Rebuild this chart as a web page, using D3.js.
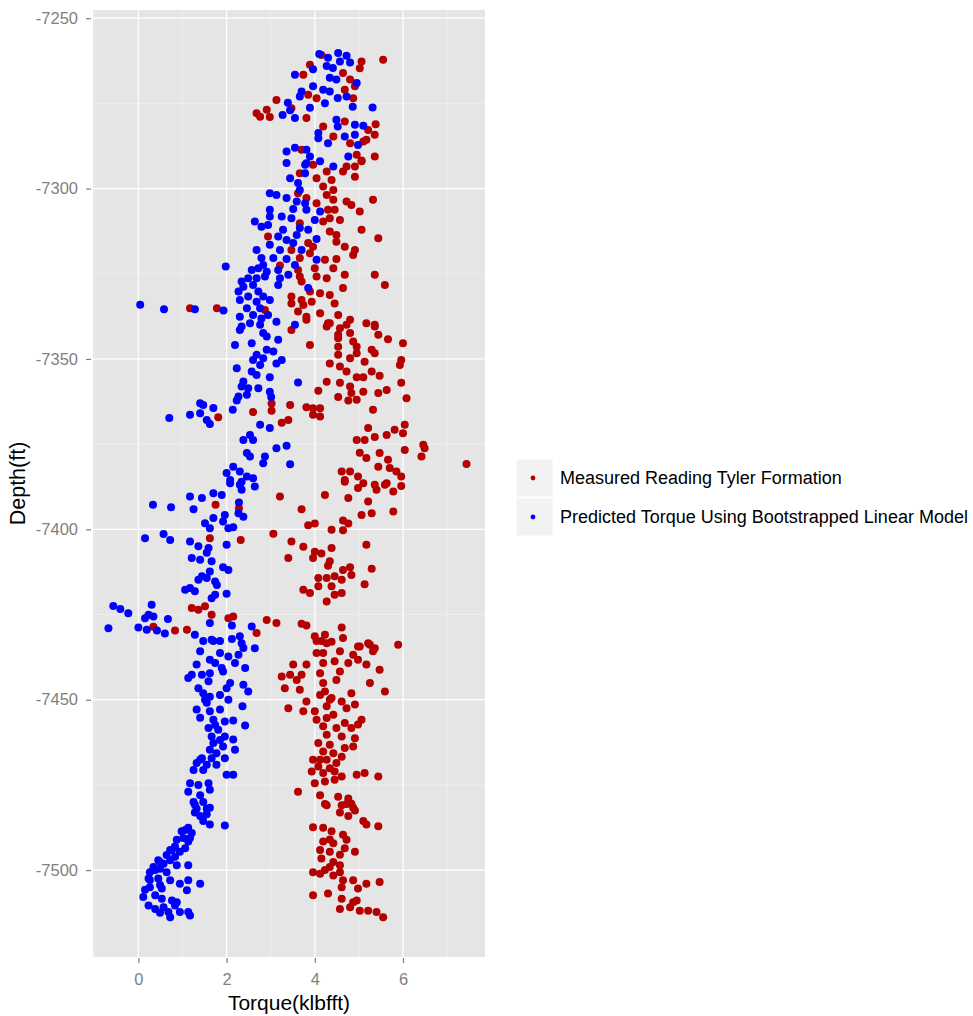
<!DOCTYPE html>
<html>
<head>
<meta charset="utf-8">
<script src="https://cdnjs.cloudflare.com/ajax/libs/d3/7.8.5/d3.min.js"></script>
<style>
  body { margin: 0; background: #fff; }
  text { font-family: "Liberation Sans", Arial, sans-serif; }
</style>
</head>
<body>
<div id="chart"></div>
<script>
// series / legend
var seriesNames = ['Measured Reading Tyler Formation', 'Predicted Torque Using Bootstrapped Linear Model']
var seriesColors = ['#b40000', '#0000ff']

// axis ticks
var xTicks = [0, 2, 4, 6]
var xMinor = [-1, 1, 3, 5, 7]
var yTicks = [-7250, -7300, -7350, -7400, -7450, -7500]
var yMinor = [-7275, -7325, -7375, -7425, -7475]

// [torque (klbfft), depth (ft)]
var measured = [
  [5.55,-7262.2],[5.06,-7262.7],[5.02,-7264.7],[4.15,-7260.8],[3.89,-7263.7],[3.74,-7266.6],[4.64,-7266.1],[4.80,-7268],
  [4.68,-7271],[4.91,-7270],[4.04,-7273.5],[3.85,-7272.5],[4.87,-7273.5],[3.13,-7274],[3.47,-7276.4],[2.91,-7276.9],
  [2.68,-7277.9],[2.76,-7278.9],[2.98,-7279],[3.81,-7279.3],[4.19,-7281.8],[4.68,-7280.3],[5.21,-7282.8],[5.38,-7281.1],
  [5.36,-7284.2],[4.42,-7284.7],[4.80,-7286.7],[5.10,-7286.2],[5.17,-7285.7],[4.95,-7290.1],[5.36,-7290.6],[5.06,-7291.8],
  [3.70,-7288.6],[4.72,-7293.5],[4.91,-7293.5],
  [3.96,-7293],[4.27,-7295],[4.64,-7295],[5.06,-7292],[4.91,-7296.5],[3.66,-7295.5],[4.04,-7297],[4.19,-7299.4],
  [4.38,-7297.5],[4.42,-7300.4],[4.27,-7301.9],[3.62,-7301.4],[3.81,-7302.8],[4.04,-7304.3],[4.42,-7303.3],[4.72,-7303.8],
  [4.83,-7304.8],[5.32,-7303.3],[5.02,-7306.7],[4.30,-7306.2],[4.45,-7306.2],[3.66,-7310.2],[4.19,-7309.7],[4.34,-7308.7],
  [4.57,-7309.2],[5.06,-7312.1],[4.34,-7312.6],[4.49,-7313.6],[4.49,-7315.6],[4.68,-7317.1],[5.44,-7314.6],[2.94,-7314.1],
  [3.85,-7316],[3.96,-7317.1],[3.47,-7318],[3.89,-7319],[3.66,-7320.4],[4.91,-7318],[4.87,-7319.5],[4.23,-7320.9],
  [4.49,-7320.7],[3.21,-7322.6],[3.62,-7323.9],[4.00,-7323.4],[4.42,-7323.4],[4.68,-7325.3],[5.36,-7325.3],[5.59,-7328.3],
  [3.66,-7325.8],[3.70,-7327.3],[4.04,-7325.8],[4.27,-7326.3],[4.64,-7329.2],[3.89,-7330.2],[4.12,-7330.7],[4.34,-7331.2],
  [3.47,-7331.7],[3.70,-7332.7],[3.93,-7333.2],[4.45,-7333.7],[3.47,-7333.7],[3.74,-7334.2],[1.17,-7335.1],[1.78,-7335.1],
  [2.87,-7335.6],[3.62,-7336.1],[3.81,-7337.6],[4.12,-7336.6],[4.53,-7337.1],[4.80,-7338.5],[4.30,-7339.5],[4.72,-7340],
  [5.17,-7339.5],[5.36,-7340],
  [3.47,-7341.5],[3.81,-7338.5],[4.34,-7339.5],[4.57,-7341],[5.36,-7340.5],[4.53,-7342.9],[4.80,-7342.4],[5.44,-7342.9],
  [4.53,-7343.9],[4.87,-7344.9],[5.66,-7344.2],[6.00,-7345.4],[3.89,-7345.9],[4.53,-7346.4],[4.95,-7346.4],[4.27,-7340.5],
  [5.29,-7347.3],[5.36,-7348.3],[4.95,-7348.3],[4.80,-7349.8],[4.53,-7348.8],[4.34,-7351.3],[4.57,-7352.2],[4.72,-7353.7],
  [5.13,-7350.8],[5.29,-7353.7],[5.96,-7350.3],[5.93,-7351.8],[4.95,-7355.4],[5.10,-7355.4],[5.47,-7354.9],[4.27,-7356.7],
  [4.57,-7357],[4.80,-7358.1],[4.83,-7360],[5.10,-7359.6],[5.44,-7360],[5.63,-7359.1],[5.96,-7357],[4.08,-7359.3],
  [4.53,-7361.2],[4.76,-7362.2],[4.95,-7362],[6.08,-7361.5],[3.02,-7363.1],[3.44,-7363.5],[3.81,-7364.2],[3.96,-7364.5],
  [4.12,-7364.5],[3.96,-7366.4],[4.12,-7366.9],[3.02,-7365.2],[2.60,-7365.6],[1.81,-7367.1],[3.25,-7368.7],[3.40,-7367.9],
  [5.32,-7364.9],[5.21,-7370.3],[5.36,-7372.9],[5.63,-7372.3],[5.81,-7370.8],[6.04,-7369.3],[6.00,-7371.8],[4.95,-7373.8],
  [5.13,-7373.8],[5.02,-7377.5],[5.17,-7379.1],[5.47,-7377.6],[5.66,-7379.6],[5.44,-7381.6],[5.70,-7382],[5.85,-7383],
  [5.96,-7384.5],[6.04,-7376.7],[6.46,-7375.2],[6.49,-7376.2],[6.42,-7378.6],[7.44,-7380.8],[4.61,-7383],[4.80,-7383],
  [4.68,-7385.5],[4.98,-7384.5],[5.10,-7386.5],[5.36,-7386.9],[5.63,-7386.5],[5.96,-7387.3],
  [1.75,-7392.8],[2.28,-7393.8],[3.21,-7390.4],[4.23,-7389.9],[4.68,-7386],[4.98,-7387.9],[5.40,-7388.4],[5.59,-7386.9],
  [5.78,-7388.9],[4.76,-7390.8],[5.21,-7391.8],[3.70,-7394.1],[3.85,-7398.8],[4.00,-7398.3],[4.38,-7400.1],[4.64,-7397.4],
  [4.76,-7398.3],[4.64,-7400.3],[5.06,-7395.8],[5.29,-7395.3],[5.78,-7394.8],[3.06,-7401.3],[3.47,-7403.6],[3.74,-7405.1],
  [4.00,-7406.6],[4.15,-7407.1],[4.38,-7405.5],[3.96,-7408.4],[3.40,-7408.4],[4.34,-7409.4],[4.30,-7410.7],[4.64,-7411.9],
  [4.80,-7411.1],[5.17,-7404.5],[5.29,-7411.6],[4.08,-7414.3],[4.27,-7414.3],[4.45,-7413.8],[4.61,-7414.8],[4.83,-7413.4],
  [5.13,-7416.1],[3.74,-7417.7],[3.89,-7418.7],[4.08,-7416.7],[4.38,-7416.7],[4.45,-7419.2],[4.61,-7418.7],[4.27,-7421.2],
  [1.21,-7423.1],[1.36,-7423.6],[1.51,-7422.6],[1.66,-7425.1],[2.04,-7426.1],[2.15,-7425.6],[2.32,-7403.1],[1.62,-7402.6],
  [0.34,-7428.6],[0.83,-7429.7],[1.10,-7429.5],[2.91,-7426.6],[3.13,-7427.5],[2.68,-7430.4],[3.70,-7427.7],[3.81,-7428.2],
  [4.61,-7428.8],[4.00,-7431.4],[4.23,-7430.9],[4.15,-7432.8],[4.38,-7433],[4.64,-7431.9],[4.98,-7434.4],[5.21,-7433.4],
  [5.36,-7434.9],[5.89,-7433.9],
  [4.04,-7432.8],[4.27,-7433.4],[5.02,-7434.4],[5.25,-7433.9],[4.04,-7436.3],[4.19,-7436.3],[4.57,-7435.8],[4.87,-7436.8],
  [5.32,-7435.8],[3.51,-7439.7],[3.81,-7439.7],[4.19,-7439.2],[4.45,-7438.7],[4.76,-7439.2],[4.98,-7438.3],[5.17,-7439.7],
  [3.25,-7443.2],[3.44,-7442.7],[3.70,-7442.7],[3.59,-7444.2],[4.12,-7442.2],[4.57,-7441.7],[5.47,-7441.2],[3.32,-7446.6],
  [3.66,-7447.1],[4.19,-7445.1],[4.23,-7447.6],[4.49,-7444.2],[5.25,-7445.1],[5.59,-7447.6],[4.12,-7448.6],[4.83,-7448.1],
  [4.38,-7449.5],[4.61,-7450.5],[3.81,-7450.5],[3.40,-7452.5],[3.74,-7453.4],[4.00,-7453.4],[4.27,-7451.9],[4.72,-7452.5],
  [4.91,-7451.4],[4.04,-7455.9],[4.27,-7455.4],[4.42,-7454.4],[4.68,-7456.8],[5.06,-7455.9],[4.19,-7457.8],[4.49,-7458.3],
  [4.83,-7458.3],[4.98,-7457.3],[4.27,-7460.3],[4.61,-7460.8],[4.91,-7461.3],[4.08,-7462.7],[4.34,-7463.2],[4.68,-7464.2],
  [4.87,-7463.7],[4.19,-7465.2],[4.42,-7465.7],[4.61,-7466.7],[3.96,-7467.6],[4.27,-7467.6],[4.49,-7468.6],[4.08,-7469.6],
  [4.34,-7470.1],[3.93,-7471.1],[4.19,-7471.5],[4.45,-7471.1],[4.95,-7472],[5.13,-7471.5],[5.44,-7472.5],[4.61,-7472.5],
  [4.00,-7474.5],[4.23,-7474],[3.62,-7477],[4.12,-7478],[4.53,-7478.5],[4.76,-7479],[4.27,-7481],[4.61,-7481],
  [4.83,-7480.5],[4.91,-7482.5],[4.34,-7450],[4.12,-7467.6],[4.45,-7473.5],
  [4.23,-7480.6],[4.57,-7483.1],[4.72,-7480.6],[4.87,-7481.7],[4.76,-7484.1],[5.10,-7485.6],[5.17,-7486.6],[5.44,-7487.1],
  [3.96,-7487.4],[4.19,-7487.6],[4.38,-7488.6],[4.64,-7489.6],[4.19,-7491.6],[4.42,-7492.1],[4.72,-7491.1],[4.12,-7494.1],
  [4.34,-7494.6],[4.68,-7493.6],[4.91,-7494.6],[4.15,-7496.6],[4.42,-7497.6],[4.34,-7499.1],[4.57,-7498.6],[3.96,-7500.6],
  [4.12,-7501.1],[4.42,-7501.6],[4.57,-7500.6],[4.64,-7503],[4.87,-7503],[5.17,-7504],[5.47,-7503.5],[4.61,-7505],
  [4.98,-7505.4],[3.96,-7507.4],[4.30,-7506.9],[4.61,-7508.4],[4.95,-7508.9],[4.57,-7511.4],[4.80,-7510.9],[5.02,-7511.9],
  [5.21,-7511.9],[5.40,-7512.3],[5.55,-7513.8],[4.87,-7509.4],[4.34,-7491],[4.23,-7500],[4.57,-7495.5]
]

var predicted = [
  [4.10,-7260.5],[4.30,-7261.6],[4.53,-7260.2],[4.72,-7261],[4.57,-7262.7],[4.80,-7263],[3.55,-7266.6],[3.96,-7265],
  [4.27,-7264],[4.41,-7264.6],[4.34,-7267.5],[4.49,-7268],[4.95,-7269],[3.96,-7270],[4.19,-7271],[4.34,-7271.5],
  [3.70,-7271.5],[3.66,-7273],[4.52,-7273.4],[4.72,-7273],[4.23,-7275],[3.89,-7276.3],[3.39,-7274.8],[3.44,-7277],
  [3.27,-7278.4],[3.55,-7279.3],[4.86,-7276],[5.31,-7276.2],[4.49,-7279.8],[4.52,-7281.8],[4.91,-7281.3],[5.10,-7281.6],
  [4.08,-7283.7],[4.68,-7284.7],[4.91,-7284.2],[4.30,-7286.7],[4.98,-7287.2],[4.08,-7285.2],[3.36,-7289.1],[3.55,-7288],
  [3.81,-7288.6],[3.89,-7290.6],[4.76,-7290.6],[3.36,-7292.5],[3.78,-7293],[4.42,-7293.5],
  [3.81,-7292.6],[4.12,-7292],[3.78,-7295.5],[3.44,-7297],[3.62,-7298.4],[3.66,-7300.4],[2.98,-7301.4],[3.13,-7301.9],
  [3.36,-7302.8],[3.59,-7303.8],[3.78,-7304.3],[3.81,-7306.2],[3.51,-7306],[2.98,-7306.2],[2.98,-7308.2],[3.25,-7308.2],
  [3.47,-7308.7],[4.12,-7306.7],[4.00,-7309.2],[2.64,-7309.7],[2.79,-7311.2],[2.94,-7310.7],[3.66,-7311.6],[3.85,-7312.1],
  [3.28,-7312.1],[3.17,-7314.1],[3.36,-7315.1],[3.59,-7313.6],[4.04,-7314.8],[2.98,-7316.5],[3.51,-7316],[2.68,-7318],
  [3.21,-7318],[3.70,-7318],[2.79,-7320.4],[3.06,-7320.4],[3.36,-7320.7],[3.55,-7322.4],[4.04,-7320.9],[2.83,-7322.4],
  [1.98,-7322.9],[2.57,-7323.9],[2.72,-7323.4],[2.91,-7324.4],[3.17,-7323.9],[3.40,-7325.3],[2.49,-7326.3],[2.34,-7327.3],
  [2.68,-7326.3],[2.87,-7325.8],[3.21,-7326.3],[2.38,-7328.8],[2.60,-7328.3],[3.17,-7328.3],[3.85,-7329.2],[2.27,-7330.2],
  [2.72,-7330.2],[2.49,-7331.7],[2.83,-7331.7],[2.98,-7332.7],[2.30,-7332.7],[2.68,-7333.2],[1.28,-7335.4],[1.93,-7335.8],
  [2.46,-7335.1],[2.76,-7335.1],[2.30,-7337.6],[2.60,-7337.1],[2.79,-7338.1],[2.94,-7337.1],[3.13,-7339.1],[3.55,-7340],
  [2.34,-7340.5],[2.53,-7339.5],[0.04,-7334.1],[0.58,-7335.4],
  [2.30,-7341.5],[2.76,-7340],[2.83,-7342.4],[2.91,-7343.4],[3.17,-7344.4],[2.57,-7345.4],[2.19,-7345.9],[2.91,-7347.3],
  [3.06,-7347.8],[2.68,-7348.8],[2.83,-7349.8],[2.60,-7350.3],[3.25,-7350.3],[3.13,-7351.3],[2.76,-7351.8],[2.23,-7352.7],
  [2.57,-7353.7],[2.68,-7354.7],[2.98,-7355.4],[3.62,-7356.9],[2.38,-7356.6],[2.34,-7358.1],[2.49,-7358.6],[2.72,-7358.6],
  [2.98,-7359.6],[2.27,-7361],[2.46,-7360.5],[3.01,-7361.2],[2.23,-7362.2],[1.40,-7363],[1.70,-7364.4],[1.17,-7366.4],
  [1.40,-7365.9],[1.47,-7363.5],[2.14,-7364.9],[0.70,-7367.3],[1.55,-7367.9],[1.62,-7369.1],[2.76,-7369.3],[2.98,-7370.3],
  [2.53,-7372.3],[2.38,-7373.8],[2.60,-7373.8],[3.13,-7376.2],[3.36,-7375.5],[2.46,-7377.6],[2.53,-7378.6],[2.87,-7378.6],
  [2.83,-7380.6],[3.44,-7380.9],[2.15,-7381.6],[2.00,-7383.5],[2.30,-7383],[2.46,-7384.5],[2.60,-7385],[2.08,-7385.5],
  [2.30,-7386.9],[2.64,-7387.4],
  [2.08,-7386.5],[2.34,-7386],[2.34,-7388.4],[1.17,-7390.4],[1.44,-7390.8],[1.70,-7389.4],[1.89,-7389.9],[0.33,-7392.8],
  [0.74,-7393.5],[1.25,-7394.1],[2.28,-7392.1],[1.70,-7396.7],[1.96,-7395.8],[2.27,-7395.3],[2.38,-7396.3],[1.51,-7398.2],
  [1.62,-7399.7],[1.92,-7397.7],[2.04,-7399.7],[2.15,-7399.4],[0.15,-7402.6],[0.57,-7401.4],[0.72,-7403.1],[1.17,-7403.6],
  [1.36,-7405],[1.59,-7405.5],[2.00,-7404.5],[1.55,-7406.9],[1.21,-7408.4],[1.40,-7408.9],[1.66,-7409.4],[1.92,-7411.1],
  [2.04,-7411.9],[1.62,-7412.4],[1.44,-7413.8],[1.36,-7414.8],[1.55,-7414.3],[1.74,-7415.3],[1.06,-7417.7],[1.17,-7417.2],
  [1.28,-7418.2],[1.78,-7416.3],[2.00,-7418.9],[1.66,-7420.2],[1.74,-7419.2],[-0.57,-7422.5],[-0.41,-7423.4],[-0.23,-7424.6],
  [0.30,-7422.1],[0.23,-7425.1],[0.15,-7426.1],[0.34,-7425.6],[0.67,-7426.3],[-0.68,-7429],[0.00,-7428.8],[0.19,-7429.5],
  [0.42,-7429.7],[0.60,-7430.6],[1.62,-7427.5],[2.12,-7428.2],[2.57,-7428.5],[1.28,-7430.9],[1.47,-7432.8],[1.66,-7432.4],
  [1.85,-7432.8],[2.12,-7432.2],[2.30,-7431.4],[2.34,-7433.4],[2.64,-7434.9],
  [1.70,-7432.8],[2.38,-7434.8],[1.40,-7435.8],[1.85,-7436.3],[2.04,-7437.3],[2.27,-7436.8],[1.62,-7438.3],[1.74,-7439.2],
  [2.19,-7439.2],[1.32,-7439.7],[1.89,-7440.7],[2.42,-7440.7],[1.21,-7442.7],[1.44,-7442.7],[1.62,-7442.2],[1.92,-7441.7],
  [1.13,-7443.6],[1.59,-7444.6],[1.36,-7446.6],[2.08,-7445.1],[2.00,-7446.6],[2.38,-7445.6],[2.49,-7447.6],[1.47,-7448.1],
  [1.62,-7449.1],[1.85,-7448.6],[1.55,-7450.9],[2.04,-7450],[1.32,-7452.9],[1.62,-7453.4],[1.85,-7452.9],[2.36,-7451.9],
  [1.40,-7455.3],[1.70,-7455.9],[1.96,-7456.4],[2.15,-7456.1],[2.42,-7457.6],[1.59,-7458.3],[1.81,-7458.8],[1.96,-7460.8],
  [1.66,-7460.8],[2.15,-7461.7],[1.70,-7462.7],[1.92,-7463.7],[2.19,-7464.7],[1.62,-7464.7],[1.77,-7465.7],[1.44,-7467.2],
  [1.66,-7467.2],[1.96,-7467.2],[1.32,-7468.6],[1.55,-7469.1],[1.77,-7469.1],[1.25,-7470.6],[1.47,-7470.6],[2.00,-7472],
  [2.15,-7472],[1.17,-7474.5],[1.36,-7475],[1.59,-7474.5],[1.13,-7477],[1.40,-7478],[1.25,-7480],[1.47,-7480],
  [1.32,-7482],[1.55,-7482],[1.51,-7450],[1.74,-7457.4],[1.40,-7467.6],[1.62,-7476.4],[1.28,-7480.8],[1.85,-7461.8],
  [1.62,-7481.7],[1.28,-7483.1],[1.40,-7484.1],[1.55,-7483.6],[1.47,-7485.6],[1.62,-7486.6],[1.96,-7486.9],[1.13,-7487.6],
  [0.98,-7488.6],[1.21,-7489.1],[1.02,-7490.6],[0.87,-7491.1],[1.13,-7491.6],[0.83,-7493.1],[1.06,-7493.6],[0.72,-7494.1],
  [0.94,-7494.6],[0.64,-7495.6],[0.83,-7496.1],[0.45,-7497.1],[0.72,-7497.1],[0.57,-7498.1],[0.87,-7498.6],[1.13,-7498.6],
  [0.34,-7499.1],[0.49,-7499.6],[0.26,-7500.6],[0.64,-7500.6],[0.23,-7502.5],[0.45,-7502.5],[0.72,-7503],[1.13,-7503],
  [1.40,-7504],[0.26,-7505],[0.94,-7504],[0.53,-7505.4],[1.10,-7505.9],[0.11,-7507.9],[0.38,-7507.4],[0.53,-7508.4],
  [0.76,-7508.9],[0.87,-7509.4],[0.23,-7510.4],[0.38,-7511.4],[0.57,-7510.9],[0.68,-7512.3],[0.72,-7513.8],[0.94,-7512.3],
  [1.13,-7512.3],[1.17,-7513.3],[1.06,-7488.2],[1.17,-7490.6],[0.76,-7494.1],[0.49,-7497.6],[0.38,-7500],[0.26,-7502.9],
  [0.49,-7504.4],[0.15,-7505.8],[0.83,-7510.4],[0.49,-7512.5]
]

var width = 973, height = 1016
var panel = {left: 93, top: 10, right: 485, bottom: 957}

var x = d3.scaleLinear().domain([-1.03, 7.86]).range([panel.left, panel.right])
var y = d3.scaleLinear().domain([-7247.6, -7525.5]).range([panel.top, panel.bottom])

var svg = d3.select('#chart').append('svg').attr('width', width).attr('height', height)

// panel background + grid
svg.append('rect')
  .attr('x', panel.left).attr('y', panel.top)
  .attr('width', panel.right - panel.left).attr('height', panel.bottom - panel.top)
  .attr('fill', '#e5e5e5')

var grid = svg.append('g')
grid.selectAll('.xminor').data(xMinor).join('line')
  .attr('x1', d => x(d)).attr('x2', d => x(d)).attr('y1', panel.top).attr('y2', panel.bottom)
  .attr('stroke', '#f2f2f2').attr('stroke-width', 0.7)
grid.selectAll('.yminor').data(yMinor).join('line')
  .attr('y1', d => y(d)).attr('y2', d => y(d)).attr('x1', panel.left).attr('x2', panel.right)
  .attr('stroke', '#f2f2f2').attr('stroke-width', 0.7)
grid.selectAll('.xmajor').data(xTicks).join('line')
  .attr('x1', d => x(d)).attr('x2', d => x(d)).attr('y1', panel.top).attr('y2', panel.bottom)
  .attr('stroke', '#fff').attr('stroke-width', 1.3)
grid.selectAll('.ymajor').data(yTicks).join('line')
  .attr('y1', d => y(d)).attr('y2', d => y(d)).attr('x1', panel.left).attr('x2', panel.right)
  .attr('stroke', '#fff').attr('stroke-width', 1.3)

// points
var series = [measured, predicted]
series.forEach(function(pts, i) {
  svg.append('g').selectAll('circle')
    .data(pts).join('circle')
    .attr('cx', d => x(d[0]))
    .attr('cy', d => y(d[1]))
    .attr('r', 4)
    .attr('fill', seriesColors[i])
})

// axes
var yAxis = svg.append('g').attr('transform', 'translate(' + (panel.left - 2) + ',0)')
  .call(d3.axisLeft(y).tickValues(yTicks).tickFormat(d => String(d)).tickSize(5).tickPadding(8))
var xAxis = svg.append('g').attr('transform', 'translate(0,' + (panel.bottom + 1) + ')')
  .call(d3.axisBottom(x).tickValues(xTicks).tickFormat(d => String(d)).tickSize(5).tickPadding(10))

;[xAxis, yAxis].forEach(function(a) {
  a.select('.domain').remove()
  a.selectAll('line').attr('stroke', '#7f7f7f').attr('stroke-width', 1.2)
  a.selectAll('text').attr('fill', '#7f7f7f').style('font-size', '16.5px')
    .style('font-family', '"Liberation Sans", Arial, sans-serif')
})

svg.append('text')
  .attr('x', (panel.left + panel.right) / 2).attr('y', 1010)
  .attr('text-anchor', 'middle').style('font-size', '21px')
  .text('Torque(klbfft)')

svg.append('text')
  .attr('transform', 'translate(25,' + ((panel.top + panel.bottom) / 2) + ') rotate(-90)')
  .attr('text-anchor', 'middle').style('font-size', '21.5px')
  .text('Depth(ft)')

// legend
var legend = svg.append('g').attr('transform', 'translate(516,459)')
var item = legend.selectAll('g').data(seriesNames).join('g')
  .attr('transform', (d, i) => 'translate(0,' + (i * 39) + ')')
item.append('rect').attr('width', 37).attr('height', 38)
  .attr('fill', '#f2f2f2').attr('stroke', '#fff').attr('stroke-width', 1)
item.append('circle').attr('cx', 17).attr('cy', 19).attr('r', 2.4)
  .attr('fill', (d, i) => seriesColors[i])
item.append('text').attr('x', 44).attr('y', 19).attr('dy', '0.35em')
  .style('font-size', '18px').attr('fill', '#000')
  .text(d => d)
</script>
</body>
</html>
